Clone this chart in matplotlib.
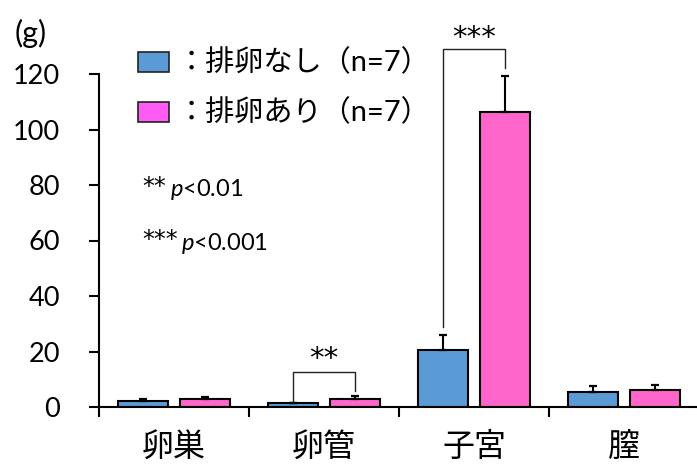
import numpy as np
import matplotlib
matplotlib.use('Agg')
import matplotlib.pyplot as plt
from matplotlib.patches import Rectangle

plt.rcParams['font.family'] = ['Lato', 'Noto Sans CJK JP', 'DejaVu Sans']
plt.rcParams['mathtext.fontset'] = 'custom'
plt.rcParams['mathtext.it'] = 'Lato:italic'
plt.rcParams['mathtext.rm'] = 'Lato'

categories = ['卵巣', '卵管', '子宮', '膣']
no_ovul = [2.1, 1.3, 20.4, 5.5]
no_ovul_err = [0.7, 0.2, 5.6, 2.2]
ovul = [2.8, 2.8, 106.2, 6.1]
ovul_err = [0.9, 1.3, 13.1, 1.7]
labels = ['：排卵なし（n=7）', '：排卵あり（n=7）']
yticks = [0, 20, 40, 60, 80, 100, 120]

blue = '#5B9BD5'
pink = '#FF66CC'
pink_leg = '#FF5CF5'

fig = plt.figure(figsize=(6.97, 4.68), dpi=100)
ax = fig.add_axes([99/697, 61/468, 600/697, 333/468])

x = np.arange(len(categories))
w = 0.335
off = 0.205
ax.bar(x - off, no_ovul, w, color=blue, edgecolor='black', linewidth=1.5, zorder=2)
ax.bar(x + off, ovul, w, color=pink, edgecolor='black', linewidth=1.5, zorder=2)
ax.errorbar(x - off, no_ovul, yerr=[np.zeros(4), no_ovul_err], fmt='none',
            ecolor='black', elinewidth=1.5, capsize=3, capthick=1.6, zorder=3)
ax.errorbar(x + off, ovul, yerr=[np.zeros(4), ovul_err], fmt='none',
            ecolor='black', elinewidth=1.5, capsize=3, capthick=1.6, zorder=3)

ax.set_xlim(-0.5, 3.5)
ax.set_ylim(0, 120)
for s in ['top', 'right']:
    ax.spines[s].set_visible(False)
for s in ['left', 'bottom']:
    ax.spines[s].set_linewidth(1.5)

ax.set_yticks(yticks)
ax.tick_params(axis='y', length=7, width=1.5, pad=21, labelsize=19.5)
ax.set_xticks([-0.5, 0.5, 1.5, 2.5])
ax.set_xticklabels([])
ax.tick_params(axis='x', which='major', length=7, width=1.5)
ax.set_xticks(x, minor=True)
ax.set_xticklabels(categories, minor=True, fontsize=23)
ax.tick_params(axis='x', which='minor', length=0, pad=18)

# significance brackets
def bracket(x0, x1, ytop, yl, yr, stars, ys):
    ax.plot([x0, x0, x1, x1], [yl, ytop, ytop, yr], color='#222222', lw=1.0,
            clip_on=False, zorder=4)
    ax.text((x0 + x1) / 2, ys, stars, ha='center', va='center', fontsize=21,
            family='DejaVu Sans', clip_on=False)

bracket(1 - off, 1 + off, 12.5, no_ovul[1] + 0.4, 5.8, '**', 17.3)
bracket(2 - off, 2 + off, 128.9, 28.8, 122.2, '***', 132.8)

# p-value note
fig.text(142/697, 1 - 187/468, '**', fontsize=17, family='DejaVu Sans',
         va='center', ha='left')
fig.text(170/697, 1 - 190/468, '$\\it{p}$<0.01', fontsize=17, va='center', ha='left')
fig.text(142/697, 1 - 240/468, '***', fontsize=17, family='DejaVu Sans',
         va='center', ha='left')
fig.text(181/697, 1 - 243/468, '$\\it{p}$<0.001', fontsize=17, va='center', ha='left')

fig.text(31/697, 1 - 33/468, '(g)', fontsize=22, ha='center', va='center')

# legend
for i, (lab, c) in enumerate(zip(labels, [blue, pink_leg])):
    yc = 62 + 50 * i
    fig.add_artist(Rectangle((138/697, 1 - (yc + 10)/468), 31/697, 20/468,
                             transform=fig.transFigure, facecolor=c,
                             edgecolor='#222222', linewidth=1.2))
    fig.text(177/697, 1 - yc/468, lab, fontsize=21, ha='left', va='center')

fig.savefig('out.png', dpi=100)
